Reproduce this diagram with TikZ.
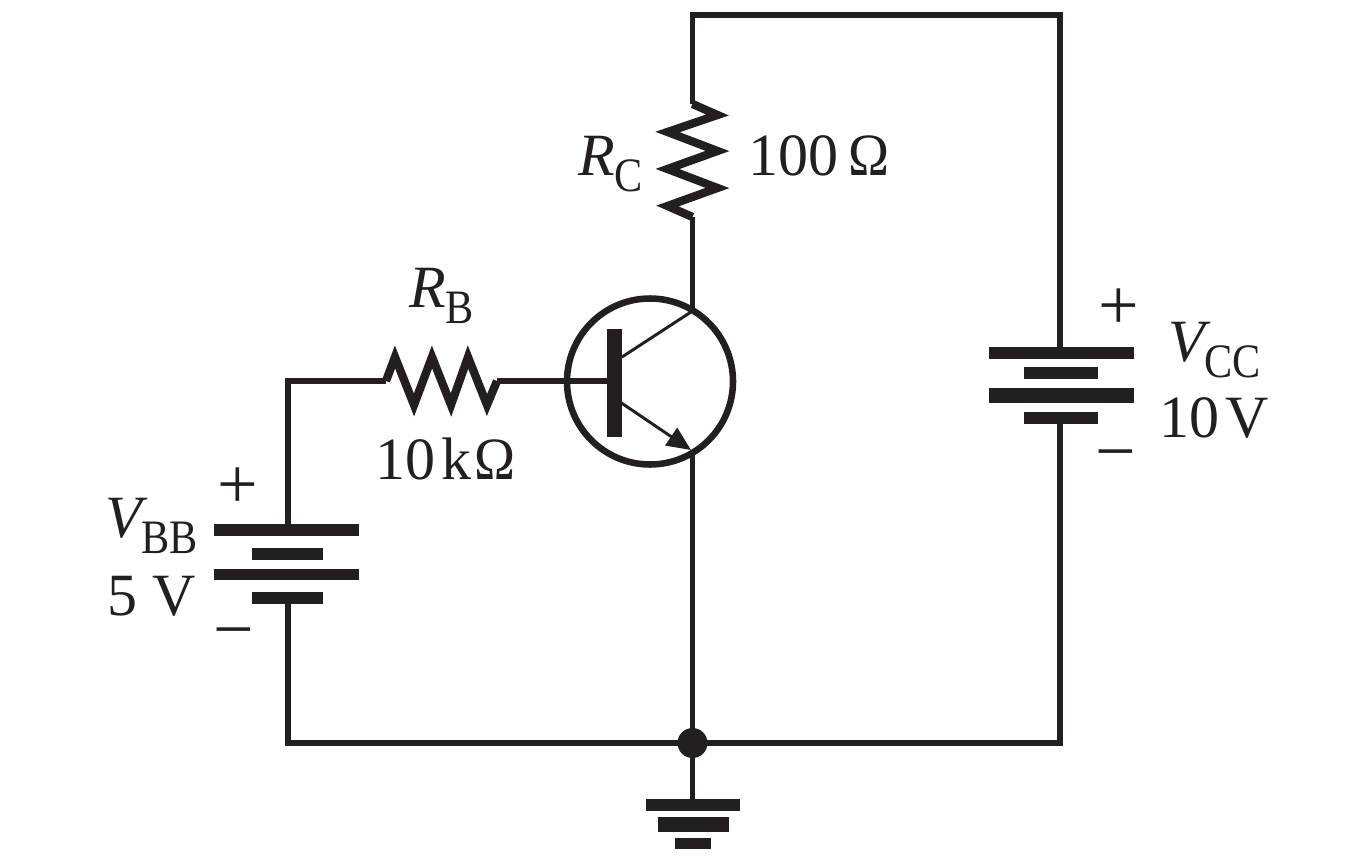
\documentclass[tikz,border=0pt]{standalone}
\usepackage{fontspec}
\setmainfont{Liberation Serif}
\usetikzlibrary{arrows.meta}
\definecolor{ink}{HTML}{231F20}
\newcommand{\bigtxt}{\fontsize{45}{50}\selectfont}
\newcommand{\subtxt}{\fontsize{36}{40}\selectfont}
\newcommand{\signtxt}{\fontsize{54}{60}\selectfont}
\newcommand{\lbl}[2]{{\bigtxt\itshape #1}\raisebox{-12pt}{\scalebox{.88}[1]{\subtxt #2}}}
\newcommand{\ohm}{\scalebox{.92}[1]{Ω}}
\tikzset{
  x=.75pt,y=-.75pt,
  wire/.style={draw=ink,line width=4.2pt,line join=miter},
  thin wire/.style={draw=ink,line width=2.2pt},
  res/.style={draw=ink,line width=6.2pt,line join=miter,miter limit=20},
  plate/.style 2 args={fill=ink,inner sep=0pt,minimum width=#1*.75pt,minimum height=#2*.75pt,outer sep=0pt},
  txt/.style={text=ink,inner sep=0pt,outer sep=0pt,anchor=base west,font=\bigtxt},
  sign/.style={text=ink,inner sep=0pt,outer sep=0pt,anchor=base,font=\signtxt},
}
\begin{document}
\begin{tikzpicture}
\useasboundingbox (0,0) rectangle (1370,856);
% junctions
\coordinate (topL) at (692.5,15);
\coordinate (topR) at (1060,15);
\coordinate (botL) at (288,743);
\coordinate (botR) at (1060,743);
\coordinate (bcorner) at (288,381);
\coordinate (rcT) at (692.5,104);
\coordinate (rcB) at (692.5,217);
\coordinate (rbL) at (386,381);
\coordinate (rbR) at (497,381);
\coordinate (cJ) at (692.5,311);
\coordinate (eJ) at (692.5,452);
\coordinate (eTip) at (691,450);
\coordinate (cIn) at (622,357);
\coordinate (eIn) at (617,400);
% plates
\node[plate={145}{12}] (cc1) at (1061.5,353) {};
\node[plate={74}{12}] (cc2) at (1061,373) {};
\node[plate={145}{15}] (cc3) at (1061.5,395.5) {};
\node[plate={74}{12}] (cc4) at (1061,418) {};
\node[plate={145}{12}] (bb1) at (286.5,530) {};
\node[plate={71}{12}] (bb2) at (287.5,554) {};
\node[plate={145}{11}] (bb3) at (286.5,574.5) {};
\node[plate={71}{12}] (bb4) at (287.5,598) {};
\node[plate={94}{12}] (g1) at (693,805) {};
\node[plate={71}{15}] (g2) at (693.5,824.5) {};
\node[plate={36}{11}] (g3) at (693,843.5) {};
\node[plate={15}{108}] (basebar) at (614.5,383) {};
% junction dot
\node[circle,fill=ink,inner sep=0pt,minimum size=30*.75pt] (dot) at (692.5,743) {};
% transistor envelope
\node[circle,draw=ink,line width=4.9pt,inner sep=0pt,minimum size=166*.75pt,outer sep=0pt] (Q) at (650,381.5) {};
% wires
\draw[wire] (rcT) -- (topL) -- (topR) -- (cc1.north -| topR);
\draw[wire] (cc4.south -| topR) -- (botR) -- (botL) -- (bb4.south -| botL);
\draw[wire] (bb1.north -| botL) -- (bcorner) -- (rbL);
\draw[wire] (rbR) -- (basebar.west |- rbR);
\draw[wire] (rcB) -- (cJ);
\draw[wire] (eJ) -- (dot.center);
\draw[wire] (dot.center) -- (g1.north -| dot);
% transistor leads
\draw[thin wire] (cIn) -- (cJ);
\draw[thin wire,-{Triangle[length=24*.75pt,width=21*.75pt]}] (eIn) -- (eTip);
% resistors
\draw[res] (rcT) -- (717.5,115) -- (667.5,132) -- (717.5,151) -- (667.5,169) -- (717.5,188) -- (667.5,206) -- (rcB);
\draw[res] (rbL) -- (395,357) -- (414,405) -- (432,357) -- (451,405) -- (468,357) -- (487,405) -- (rbR);
% labels
\node[txt] (lrb) at (409,307) {\lbl{R}{B}};
\node[txt] (vrb) at (375,479) {10\hspace{5pt}k\hspace{2pt}\ohm};
\node[txt] (lrc) at (578,175) {\lbl{R}{C}};
\node[txt] (vrc) at (748,175) {100\hspace{8pt}\ohm};
\node[txt] (lbb) at (105,537) {\lbl{V}{BB}};
\node[txt] (vbb) at (107,615) {5 V};
\node[txt] (lcc) at (1168,361) {\lbl{V}{CC}};
\node[txt] (vcc) at (1159,437) {10\hspace{4.7pt}V};
\node[sign] (pbb) at (238,508) {+};
\node[sign] (mbb) at (234,653) {−};
\node[sign] (pcc) at (1119,329) {+};
\node[sign] (mcc) at (1116,475) {−};
\end{tikzpicture}
\end{document}
